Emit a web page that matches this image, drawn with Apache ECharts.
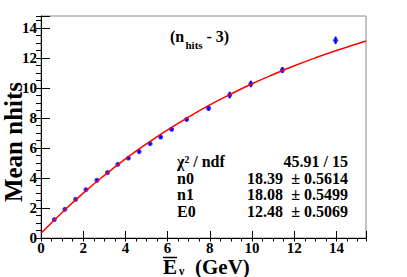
<!DOCTYPE html>
<html><head><meta charset="utf-8">
<script src="https://cdn.jsdelivr.net/npm/echarts@6/dist/echarts.min.js"></script>
<style>html,body{margin:0;padding:0;background:#fff}#c{width:407px;height:277px}</style>
</head><body><div id="c"></div>
<script>
// measured points (mean energy, mean nhits - 3, error)
const energies  = [0.63, 1.13, 1.64, 2.13, 2.65, 3.15, 3.64, 4.14, 4.65, 5.17, 5.67, 6.19, 6.90, 7.94, 8.94, 9.94, 11.44, 13.96];
const meanHits  = [1.23, 1.91, 2.58, 3.22, 3.85, 4.36, 4.91, 5.33, 5.76, 6.29, 6.73, 7.25, 7.91, 8.65, 9.53, 10.27, 11.20, 13.18];
const hitErrors = [0.06, 0.06, 0.07, 0.07, 0.08, 0.08, 0.09, 0.09, 0.10, 0.10, 0.11, 0.12, 0.13, 0.16, 0.22, 0.22, 0.20, 0.25];
// fitted curve
const fitEnergies = [0, 1, 2, 3, 4, 5, 6, 7, 8, 9, 10, 11, 12, 13, 14, 15, 15.4];
const fitValues   = [0.31, 1.70, 2.99, 4.17, 5.27, 6.28, 7.21, 8.07, 8.87, 9.60, 10.28, 10.90, 11.48, 12.01, 12.50, 12.95, 13.13];
// tick labels
const xTicks = [0, 2, 4, 6, 8, 10, 12, 14];
const yTicks = [0, 2, 4, 6, 8, 10, 12, 14];
// fit statistics box
const statNames  = ['χ² / ndf', 'n0', 'n1', 'E0'];
const statValues = ['45.91 / 15', '18.39', '18.08', '12.48'];
const statErrors = ['', '± 0.5614', '± 0.5499', '± 0.5069'];

const FF = '"Liberation Serif", "DejaVu Serif", serif';
const chart = echarts.init(document.getElementById('c'), null, {renderer: 'svg'});

const X_MIN = 0, X_MAX = 15.4, Y_MIN = 0, Y_MAX = 14.8;
const labelStyle = {color: '#000', fontFamily: FF, fontWeight: 'bold', fontSize: 15, lineHeight: 13};

function majorAxis(min, max, ticks, tickLen, margin) {
  return {
    type: 'value', min: min, max: max, interval: 2,
    axisLine: {show: true, onZero: false, lineStyle: {color: '#000', width: 1}},
    axisTick: {show: true, inside: true, length: tickLen, lineStyle: {color: '#000', width: 1}},
    axisLabel: Object.assign({margin: margin, showMaxLabel: true,
      formatter: v => ticks.indexOf(Math.round(v * 1000) / 1000) >= 0 ? String(v) : ''}, labelStyle),
    splitLine: {show: false}
  };
}
function minorAxis(min, max, tickLen) {
  return {
    type: 'value', min: min, max: max, interval: 0.5,
    axisLine: {show: false},
    axisTick: {show: true, inside: true, length: tickLen, lineStyle: {color: '#000', width: 1}},
    axisLabel: {show: false},
    splitLine: {show: false}
  };
}

const statGraphics = [];
const rowY = [161.5, 178, 194.5, 211];
const SF = 'bold 16px ' + FF;
statNames.forEach((n, i) => {
  statGraphics.push({type: 'text', x: 177, y: rowY[i],
    style: {text: n, font: SF, fill: '#000', align: 'left', verticalAlign: 'middle'}});
  statGraphics.push({type: 'text', x: i === 0 ? 348 : 283, y: rowY[i],
    style: {text: statValues[i], font: SF, fill: '#000', align: 'right', verticalAlign: 'middle'}});
  if (statErrors[i]) statGraphics.push({type: 'text', x: 348, y: rowY[i],
    style: {text: statErrors[i], font: SF, fill: '#000', align: 'right', verticalAlign: 'middle'}});
});

chart.setOption({
  animation: false,
  backgroundColor: '#fff',
  grid: {left: 41, right: 41, top: 16, bottom: 39, show: true, borderColor: '#888', borderWidth: 1, backgroundColor: 'transparent'},
  xAxis: [majorAxis(X_MIN, X_MAX, xTicks, 7, 3.5), minorAxis(X_MIN, X_MAX, 3.5)],
  yAxis: [majorAxis(Y_MIN, Y_MAX, yTicks, 9, 4), minorAxis(Y_MIN, Y_MAX, 5)],
  series: [
    {
      type: 'custom', xAxisIndex: 0, yAxisIndex: 0, z: 2,
      data: energies.map((x, i) => [x, meanHits[i], hitErrors[i]]),
      renderItem: function (params, api) {
        const x = api.value(0), y = api.value(1), e = api.value(2);
        const a = api.coord([x, y + e]), b = api.coord([x, y - e]);
        return {type: 'line', shape: {x1: a[0], y1: a[1], x2: b[0], y2: b[1]},
          style: {stroke: '#0000ff', lineWidth: 2}};
      }
    },
    {
      type: 'scatter', xAxisIndex: 0, yAxisIndex: 0, z: 3,
      symbol: 'circle', symbolSize: 5,
      itemStyle: {color: '#0000ff'},
      data: energies.map((x, i) => [x, meanHits[i]])
    },
    {
      type: 'line', xAxisIndex: 0, yAxisIndex: 0, z: 4,
      smooth: true, showSymbol: false, symbol: 'none',
      lineStyle: {color: '#ff0000', width: 1.5},
      data: fitEnergies.map((x, i) => [x, fitValues[i]])
    }
  ],
  graphic: [
    {type: 'text', x: 13, y: 142, rotation: Math.PI / 2,
      style: {text: 'Mean nhits', font: 'bold 25px ' + FF, fill: '#000', align: 'center', verticalAlign: 'middle'}},
    {type: 'text', x: 163, y: 266.5,
      style: {text: 'E', font: 'bold 21px ' + FF, lineHeight: 17, fill: '#000', align: 'left', verticalAlign: 'middle'}},
    {type: 'line', shape: {x1: 163, y1: 257.5, x2: 177, y2: 257.5}, style: {stroke: '#000', lineWidth: 1.5}},
    {type: 'text', x: 179, y: 271,
      style: {text: 'ν', font: 'bold 12px ' + FF, lineHeight: 10, fill: '#000', align: 'left', verticalAlign: 'middle'}},
    {type: 'text', x: 195, y: 266.5,
      style: {text: '(GeV)', font: 'bold 21px ' + FF, lineHeight: 17, fill: '#000', align: 'left', verticalAlign: 'middle'}},
    {type: 'text', x: 170, y: 36,
      style: {text: '(n', font: 'bold 16px ' + FF, fill: '#000', align: 'left', verticalAlign: 'middle'}},
    {type: 'text', x: 185.5, y: 45,
      style: {text: 'hits', font: 'bold 11px ' + FF, fill: '#000', align: 'left', verticalAlign: 'middle'}},
    {type: 'text', x: 206.5, y: 36,
      style: {text: '- 3)', font: 'bold 16px ' + FF, fill: '#000', align: 'left', verticalAlign: 'middle'}}
  ].concat(statGraphics)
});
</script>
</body></html>
